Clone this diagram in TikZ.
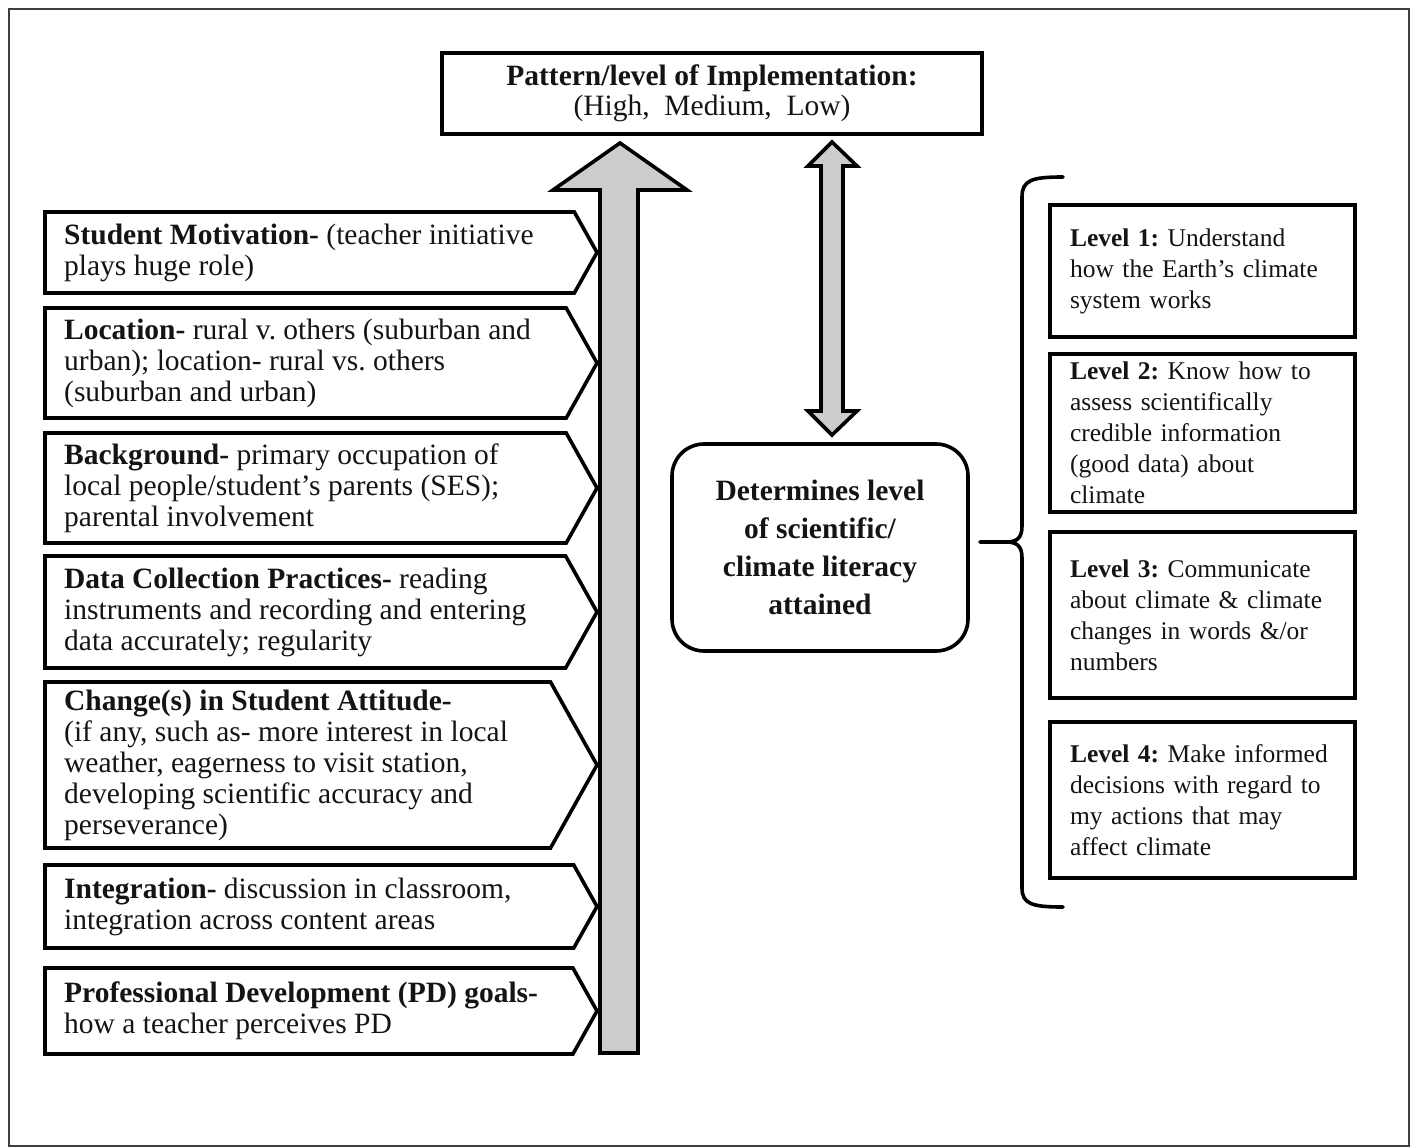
\documentclass[tikz,border=0pt]{standalone}
\usepackage{fontspec}
\setmainfont{Liberation Serif}
\frenchspacing
\definecolor{arrowgray}{gray}{0.8}
\definecolor{inkc}{gray}{0.08}
\newcommand\mychev[4]{%
  \pgfmathsetmacro\cmid{(#1+#2)/2}%
  \pgfmathsetmacro\cshl{597-0.56*(#2-#1)/2}%
  \draw[chevline] (45,#1) -- (\cshl,#1) -- (597,\cmid) -- (\cshl,#2) -- (45,#2) -- cycle;
  \node[chevtext] (#3) at (64,\cmid) {#4};}
\begin{document}
\begin{tikzpicture}[x=1pt,y=-1pt,
  chevline/.style={draw=black, line width=3.6pt, fill=white},
  chevtext/.style={anchor=west, inner sep=0pt, align=left, text=inkc,
    font=\fontsize{29.5}{31}\selectfont},
  topbox/.style={draw=black, line width=3.6pt, minimum width=540pt, minimum height=81pt,
    align=center, text=inkc, font=\fontsize{29.5}{30}\selectfont},
  roundbox/.style={draw=black, line width=3.6pt, rounded corners=32pt, minimum width=296pt,
    minimum height=207pt, align=center, text=inkc, font=\bfseries\fontsize{29.5}{38}\selectfont},
  levelbox/.style={draw=black, line width=3.6pt, text width=265pt, inner xsep=20pt, inner ysep=0pt,
    minimum width=305pt, align=left, text=inkc, font=\fontsize{25.5}{31}\selectfont},
  blockarrow/.style={draw=black, line width=3.6pt, fill=arrowgray},
  bracestyle/.style={draw=black, line width=3.6pt, line cap=round}]
\useasboundingbox (0,0) rectangle (1416,1148);
\draw[line width=2pt, draw=black!75] (9,9) rectangle (1409,1146);

% top box
\node[topbox] (impl) at (712,93.5) {\textbf{Pattern/level of Implementation:}\\(High,\ \ Medium,\ \ Low)};

% big upward arrow
\coordinate (bigbot) at (619,1053);
\coordinate (bigtip) at (620,143);
\draw[blockarrow] (600,1053) -- (600,190) -- (553,190) -- (bigtip) -- (687,190) -- (638,190) -- (638,1053) -- cycle;

% chevrons
\mychev{212}{293}{sm}{\textbf{Student Motivation-} (teacher initiative\\plays huge role)}
\mychev{308}{418}{loc}{\textbf{Location-} rural v. others (suburban and\\urban); location- rural vs. others\\(suburban and urban)}
\mychev{433}{543}{bg}{\textbf{Background-} primary occupation of\\local people/student’s parents (SES);\\parental involvement}
\mychev{556}{668}{dc}{\textbf{Data Collection Practices-} reading\\instruments and recording and entering\\data accurately; regularity}
\mychev{682}{848}{att}{\textbf{Change(s) in Student Attitude-}\\(if any, such as- more interest in local\\weather, eagerness to visit station,\\developing scientific accuracy and\\perseverance)}
\mychev{865}{948}{integ}{\textbf{Integration-} discussion in classroom,\\integration across content areas}
\mychev{968}{1054}{pd}{\textbf{Professional Development (PD) goals-}\\how a teacher perceives PD}

% determines box
\node[roundbox] (det) at (820,547.5) {Determines level\\of scientific/\\climate literacy\\attained};

% double arrow between impl and det
\coordinate (datop) at (832,142);
\coordinate (dabot) at (832,435);
\draw[blockarrow] (datop) -- (857,166) -- (843,166) -- (843,411) -- (857,411) -- (dabot)
  -- (808,411) -- (821,411) -- (821,166) -- (808,166) -- cycle;

% brace
\coordinate (brtip) at (980,542);
\draw[bracestyle] (1063,177) .. controls (1032,177) and (1022,180) .. (1022,197) -- (1022,526)
  .. controls (1022,538) and (1017,542) .. (1006,542) -- (brtip);
\draw[bracestyle] (1006,542) .. controls (1017,542) and (1022,546) .. (1022,558) -- (1022,888)
  .. controls (1022,904) and (1032,907) .. (1063,907);

% level boxes
\node[levelbox, minimum height=132pt] (l1) at (1202.5,271) {\textbf{Level 1:} Understand\\how the Earth’s climate\\system works};
\node[levelbox, minimum height=158pt] (l2) at (1202.5,433) {\textbf{Level 2:} Know how to\\assess scientifically\\credible information\\(good data) about\\climate};
\node[levelbox, minimum height=166pt] (l3) at (1202.5,615) {\textbf{Level 3:} Communicate\\about climate \& climate\\changes in words \&/or\\numbers};
\node[levelbox, minimum height=156pt] (l4) at (1202.5,800) {\textbf{Level 4:} Make informed\\decisions with regard to\\my actions that may\\affect climate};
\end{tikzpicture}
\end{document}
